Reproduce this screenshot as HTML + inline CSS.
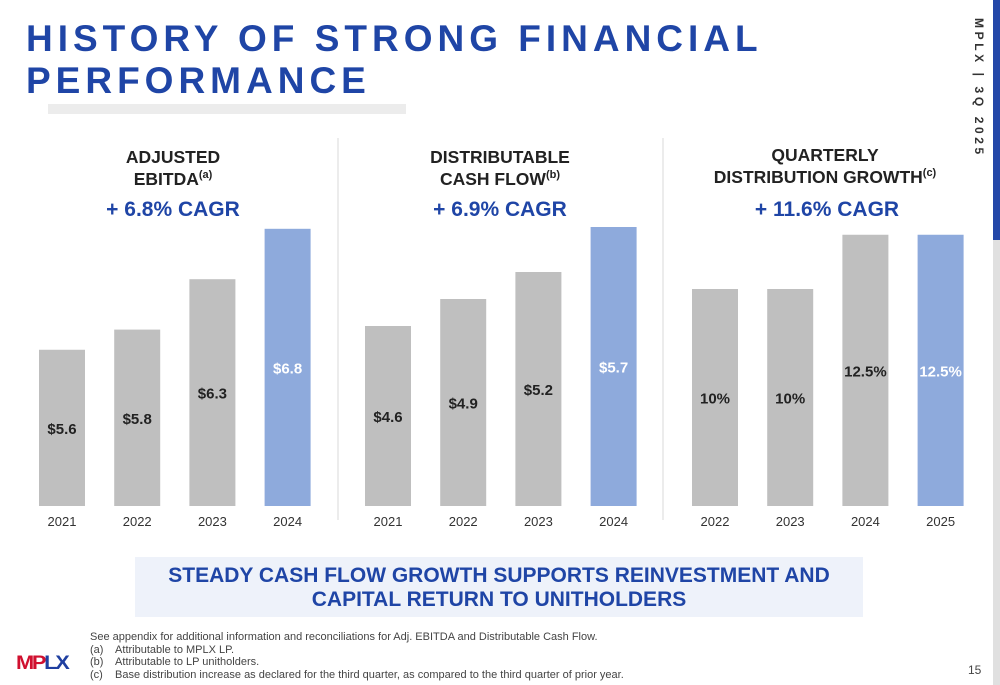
<!DOCTYPE html>
<html><head><meta charset="utf-8"><style>
body{margin:0;width:1000px;height:685px;overflow:hidden;background:#fff;font-family:"Liberation Sans",sans-serif;position:relative}
.abs{position:absolute}
.title{left:26px;top:18px;color:#1f45a6;font-weight:bold;font-size:37px;letter-spacing:5px;line-height:42px}
.hdr{position:absolute;text-align:center;font-weight:bold;font-size:17.5px;color:#222;line-height:22px}
.cagr{position:absolute;text-align:center;font-weight:bold;font-size:21px;color:#1f45a6}
.foot{left:90px;font-size:11px;color:#444;line-height:12.5px}
</style></head><body>
<div class="abs title">HISTORY OF STRONG FINANCIAL<br>PERFORMANCE</div>
<div class="abs" style="left:48px;top:104px;width:358px;height:10px;background:#ececec"></div>
<div class="abs" style="left:993px;top:0;width:7px;height:240px;background:#2448a8"></div>
<div class="abs" style="left:993px;top:240px;width:7px;height:445px;background:#e0e0e0"></div>
<div class="abs" style="left:946px;top:18px;width:40px;transform-origin:0 0;transform:translate(40px,0) rotate(90deg);white-space:nowrap;font-size:12px;font-weight:bold;letter-spacing:3.6px;color:#333">MPLX | 3Q 2025</div>

<div class="hdr" style="left:73px;top:146px;width:200px">ADJUSTED<br>EBITDA<sup style="font-size:11px;line-height:0">(a)</sup></div>
<div class="cagr" style="left:73px;top:198px;width:200px">+ 6.8% CAGR</div>
<div class="hdr" style="left:390px;top:146px;width:220px">DISTRIBUTABLE<br>CASH FLOW<sup style="font-size:11px;line-height:0">(b)</sup></div>
<div class="cagr" style="left:400px;top:198px;width:200px">+ 6.9% CAGR</div>
<div class="hdr" style="left:690px;top:144px;width:270px">QUARTERLY<br>DISTRIBUTION GROWTH<sup style="font-size:11px;line-height:0">(c)</sup></div>
<div class="cagr" style="left:727px;top:198px;width:200px">+ 11.6% CAGR</div>

<svg class="abs" style="left:0;top:0" width="1000" height="685" id="chart">
<line x1="338" y1="138" x2="338" y2="520" stroke="#d8d8d8"/>
<line x1="663" y1="138" x2="663" y2="520" stroke="#d8d8d8"/>
</svg>

<div class="abs" style="left:135px;top:557px;width:728px;height:60px;background:#eef2fa;color:#1f45a6;font-weight:bold;font-size:21px;text-align:center;line-height:24px;padding-top:7px;box-sizing:border-box;white-space:nowrap">STEADY CASH FLOW GROWTH SUPPORTS REINVESTMENT AND<br>CAPITAL RETURN TO UNITHOLDERS</div>

<div class="abs" style="left:16px;top:653px;font-weight:900;font-size:19px;letter-spacing:-2px;transform:scaleX(1.15);transform-origin:0 0"><span style="color:#d0102f">MP</span><span style="color:#1f3fa0">LX</span></div>
<div class="abs foot" style="top:631px">See appendix for additional information and reconciliations for Adj. EBITDA and Distributable Cash Flow.<br>(a)&nbsp;&nbsp;&nbsp; Attributable to MPLX LP.<br>(b)&nbsp;&nbsp;&nbsp; Attributable to LP unitholders.<br>(c)&nbsp;&nbsp;&nbsp; Base distribution increase as declared for the third quarter, as compared to the third quarter of prior year.</div>
<div class="abs" style="left:968px;top:663px;font-size:12px;color:#444">15</div>

<script>
const ebitdaYears=["2021","2022","2023","2024"];
const ebitdaValues=[5.6,5.8,6.3,6.8];
const ebitdaLabels=["$5.6","$5.8","$6.3","$6.8"];
const dcfYears=["2021","2022","2023","2024"];
const dcfValues=[4.6,4.9,5.2,5.7];
const dcfLabels=["$4.6","$4.9","$5.2","$5.7"];
const distYears=["2022","2023","2024","2025"];
const distValues=[10,10,12.5,12.5];
const distLabels=["10%","10%","12.5%","12.5%"];
const NS="http://www.w3.org/2000/svg";
const svg=document.getElementById('chart');
function panel(name,years,vals,labels,x0,base,slope){
  const baseY=506,step=75.2,w=46;
  const yScale=v=>baseY-(v-base)*slope;
  years.forEach((yr,i)=>{
    const x=x0+i*step, top=yScale(vals[i]), last=i===years.length-1;
    const r=document.createElementNS(NS,'rect');
    r.setAttribute('x',x);r.setAttribute('y',top);r.setAttribute('width',w);r.setAttribute('height',baseY-top);
    r.setAttribute('fill',last?'#8eaadc':'#bfbfbf');
    
    
    svg.appendChild(r);
    const t=document.createElementNS(NS,'text');
    t.setAttribute('x',x+w/2);t.setAttribute('y',(top+baseY)/2+6);
    t.setAttribute('text-anchor','middle');t.setAttribute('font-size','15');t.setAttribute('font-weight','bold');
    t.setAttribute('fill',last?'#fff':'#222');
    t.textContent=labels[i];
    
    
    svg.appendChild(t);
    const a=document.createElementNS(NS,'text');
    a.setAttribute('x',x+w/2);a.setAttribute('y',526);
    a.setAttribute('text-anchor','middle');a.setAttribute('font-size','13');a.setAttribute('fill','#333');
    a.textContent=yr;
    
    
    svg.appendChild(a);
  });
}
panel('ebitda',ebitdaYears,ebitdaValues,ebitdaLabels,39,4.05,100.8);
panel('dcf',dcfYears,dcfValues,dcfLabels,365,2.6,90);
panel('distribution',distYears,distValues,distLabels,692,0,21.7);
</script>
</body></html>
